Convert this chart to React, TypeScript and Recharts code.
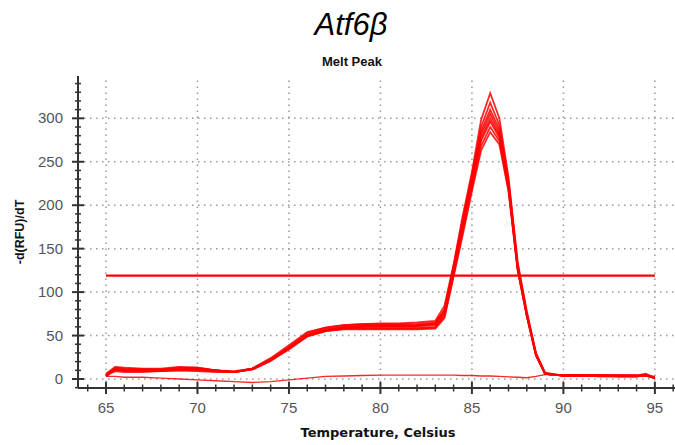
import React from 'react';
import { LineChart, Line, XAxis, YAxis, ReferenceLine } from 'recharts';

// melt temperatures (°C)
const temps = [65, 65.5, 66, 67, 68, 69, 70, 71, 72, 73, 74, 75, 76, 77, 78, 79, 80, 81, 82, 83, 83.5, 84, 84.5, 85, 85.5, 86, 86.5, 87, 87.5, 88, 88.5, 89, 90, 91, 92, 93, 94, 94.5, 95];

// -d(RFU)/dT for each replicate well
const rep1 = [4, 13, 12, 11, 11, 13, 13, 10, 8, 12, 23, 37, 53, 59, 62, 63, 64, 64, 65, 67, 84, 132, 188, 238, 298, 329, 300, 232, 135, 78, 30, 7, 4, 4, 4, 4, 4, 5, 1];
const rep2 = [3, 11, 10, 10, 10, 12, 12, 10, 8, 12, 22, 36, 51, 57, 60, 61, 62, 62, 62, 64, 80, 130, 184, 234, 290, 318, 292, 228, 132, 76, 29, 7, 4, 4, 4, 4, 4, 6, 1];
const rep3 = [6, 14, 13, 12, 12, 14, 13, 10, 8, 11, 21, 35, 50, 56, 59, 60, 61, 61, 61, 63, 78, 128, 182, 232, 285, 310, 287, 226, 130, 75, 29, 6, 4, 4, 4, 4, 4, 5, 2];
const rep4 = [4, 10, 9, 9, 9, 10, 10, 9, 8, 12, 24, 39, 54, 59, 62, 63, 63, 63, 63, 65, 79, 127, 180, 230, 281, 305, 283, 224, 129, 74, 28, 6, 4, 4, 4, 4, 3, 5, 1];
const rep5 = [3, 11, 10, 10, 10, 11, 11, 10, 9, 12, 22, 36, 51, 57, 60, 61, 61, 61, 61, 62, 76, 124, 176, 226, 277, 300, 280, 222, 128, 74, 28, 6, 4, 4, 4, 3, 3, 5, 1];
const rep6 = [5, 12, 11, 11, 11, 12, 12, 10, 8, 11, 21, 34, 49, 55, 58, 59, 59, 59, 59, 60, 74, 122, 174, 224, 274, 296, 278, 220, 127, 73, 28, 6, 4, 4, 4, 3, 3, 4, 1];
const rep7 = [4, 9, 8, 8, 9, 10, 9, 8, 8, 12, 22, 36, 50, 56, 58, 58, 58, 58, 58, 59, 72, 120, 170, 220, 268, 290, 274, 218, 126, 73, 27, 6, 4, 4, 3, 3, 3, 4, 1];
const rep8 = [4, 11, 10, 10, 10, 11, 11, 9, 8, 11, 21, 35, 49, 55, 57, 57, 57, 57, 57, 58, 70, 118, 166, 216, 263, 284, 270, 216, 125, 72, 27, 6, 4, 4, 3, 3, 3, 4, 1];
// no-template control
const ntc = [3, 3, 2, 2, 1, 0, -1, -2, -3, -4, -3, -1, 1, 3, 3.5, 4, 4.5, 4.5, 4.5, 4.5, 4.5, 4.5, 4, 4, 3.5, 3.5, 3, 2.5, 2, 1.5, 3, 5, 5, 4.5, 4.5, 4, 4, 4, 3];

const threshold = 119;
const xMajor = [65, 70, 75, 80, 85, 90, 95];
const yMajor = [0, 50, 100, 150, 200, 250, 300];

const series = [rep1, rep2, rep3, rep4, rep5, rep6, rep7, rep8, ntc];
const data = temps.map((t, i) => {
  const row: any = { t };
  series.forEach((s, k) => (row[`s${k}`] = s[i]));
  return row;
});

const xTicks: number[] = [];
for (let v = 64; v <= 96; v++) xTicks.push(v);
const yTicks: number[] = [];
for (let v = -10; v <= 340; v += 10) yTicks.push(v);

const AXIS = '#333';
const GRID = '#999';
const RED = '#ff0000';

const BottomTick = (props: any) => {
  const { x, y, payload } = props;
  const major = xMajor.includes(payload.value);
  const h = major ? 6 : 3.5;
  return (
    <g>
      <line x1={x} x2={x} y1={y - h} y2={y + h} stroke={AXIS} strokeWidth={major ? 2 : 1.5} />
      {major && (
        <text x={x} y={y + 25} textAnchor="middle" fontSize={15} fill="#555" fontFamily="Liberation Sans, Arial">
          {payload.value}
        </text>
      )}
    </g>
  );
};

const TopTick = (props: any) => {
  const { x, y, payload } = props;
  const major = xMajor.includes(payload.value);
  return <line x1={x} x2={x} y1={y} y2={y + (major ? 7 : 4)} stroke={AXIS} strokeWidth={1.5} />;
};

const LeftTick = (props: any) => {
  const { x, y, payload } = props;
  const major = yMajor.includes(payload.value);
  const w = major ? 6 : 3;
  return (
    <g>
      <line x1={x - w} x2={x + w} y1={y} y2={y} stroke={AXIS} strokeWidth={major ? 2 : 1.5} />
      {major && (
        <text x={x - 15} y={y + 5} textAnchor="end" fontSize={15} fill="#555" fontFamily="Liberation Sans, Arial">
          {payload.value}
        </text>
      )}
    </g>
  );
};

export default function App() {
  return (
    <div style={{ position: 'absolute', left: 0, top: 0, width: 675, height: 445, overflow: 'hidden', background: '#fff' }}>
      <LineChart width={675} height={445} data={data} margin={{ top: 76, right: 0, bottom: 0, left: 0 }}>
        {xMajor.map((v) => (
          <ReferenceLine key={`gx${v}`} x={v} stroke={GRID} strokeWidth={1.5} strokeDasharray="1.5 4.5" />
        ))}
        {yMajor.map((v) => (
          <ReferenceLine key={`gy${v}`} y={v} stroke={GRID} strokeWidth={1.5} strokeDasharray="1.5 4.5" />
        ))}
        <XAxis
          type="number"
          dataKey="t"
          domain={[63.47, 96.1]}
          allowDataOverflow
          ticks={xTicks}
          interval={0}
          height={57}
          tickSize={0}
          tickMargin={0}
          tickLine={false}
          tick={<BottomTick />}
          axisLine={{ stroke: AXIS, strokeWidth: 2 }}
        />
        <XAxis
          xAxisId="top"
          orientation="top"
          type="number"
          dataKey="t"
          domain={[63.47, 96.1]}
          allowDataOverflow
          ticks={xTicks}
          interval={0}
          height={0}
          tickSize={0}
          tickMargin={0}
          tickLine={false}
          tick={<TopTick />}
          axisLine={{ stroke: AXIS, strokeWidth: 1.5 }}
        />
        <YAxis
          type="number"
          domain={[-10.36, 348.7]}
          allowDataOverflow
          ticks={yTicks}
          interval={0}
          width={78}
          tickSize={0}
          tickMargin={0}
          tickLine={false}
          tick={<LeftTick />}
          axisLine={{ stroke: AXIS, strokeWidth: 2 }}
          label={{ value: '-d(RFU)/dT', angle: -90, position: 'insideLeft', offset: 20, style: { fontFamily: 'Liberation Sans, Arial', fontWeight: 700, fontSize: 12.5, fill: '#111', textAnchor: 'middle' } }}
        />
        <ReferenceLine
          segment={[{ x: 65, y: threshold }, { x: 95, y: threshold }]}
          stroke={RED}
          strokeWidth={2.2}
        />
        {series.map((_, k) => (
          <Line
            key={k}
            type="linear"
            dataKey={`s${k}`}
            stroke={RED}
            strokeWidth={k === series.length - 1 ? 1.4 : 1.8}
            strokeOpacity={0.85}
            dot={false}
            isAnimationActive={false}
          />
        ))}
      </LineChart>
      <svg width={675} height={445} style={{ position: 'absolute', left: 0, top: 0, pointerEvents: 'none' }}>
        <text x={351} y={35} textAnchor="middle" fontSize={31} fontStyle="italic" fontFamily="Liberation Sans, Arial" fill="#000">
          Atf6β
        </text>
        <text x={352} y={66} textAnchor="middle" fontSize={13} fontWeight={700} fontFamily="Liberation Sans, Arial" fill="#111">
          Melt Peak
        </text>
        <text x={378} y={437} textAnchor="middle" fontSize={13} fontWeight={700} fontFamily="DejaVu Sans" fill="#111">
          Temperature, Celsius
        </text>
      </svg>
    </div>
  );
}
